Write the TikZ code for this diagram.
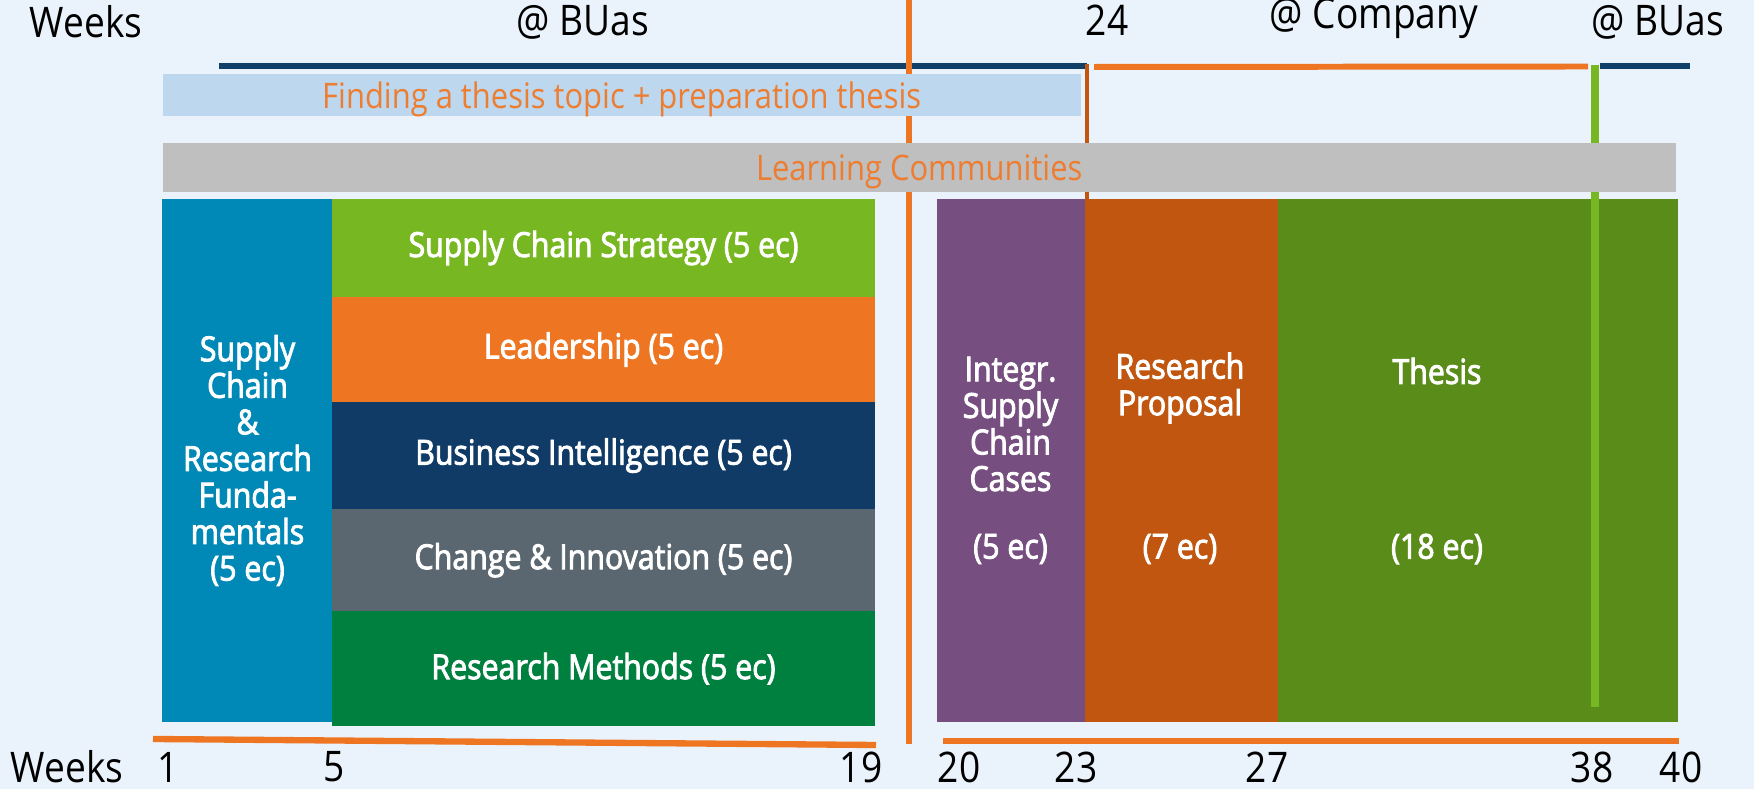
\documentclass[tikz,border=0pt]{standalone}
\usepackage{fontspec}
\setmainfont{Open Sans}[FakeStretch=0.88]
\newfontfamily\semib{Open Sans}[FakeStretch=0.88, FakeBold=2.5]
\usetikzlibrary{positioning}

\definecolor{bgblue}{RGB}{234,243,251}
\definecolor{navy}{RGB}{16,64,104}
\definecolor{barblue}{RGB}{189,215,238}
\definecolor{bargray}{RGB}{191,191,191}
\definecolor{ltorange}{RGB}{237,125,49}
\definecolor{scblue}{RGB}{0,137,182}
\definecolor{lime}{RGB}{119,184,34}
\definecolor{orange1}{RGB}{238,118,35}
\definecolor{darknavy}{RGB}{15,59,102}
\definecolor{slate}{RGB}{91,103,112}
\definecolor{dkgreen}{RGB}{0,128,62}
\definecolor{purple1}{RGB}{118,78,128}
\definecolor{burnt}{RGB}{192,86,15}
\definecolor{olive}{RGB}{90,140,26}

\begin{document}
\begin{tikzpicture}[
    box/.style={inner sep=0pt, fill=#1, draw=#1, line width=0.3pt, text=white,
      font=\fontsize{9.8}{10.4}\semib},
    row/.style={box=#1, minimum width=5.42cm},
    col/.style={box=#1, anchor=north west, minimum height=5.22cm},
    lbl/.style={inner sep=0pt, text=white, align=center, font=\fontsize{9.8}{10.4}\semib},
    wk/.style={inner sep=0pt, font=\fontsize{12}{14}\selectfont},
    bar/.style={anchor=north west, inner sep=0pt, text depth=0pt, text=ltorange,
      font=\fontsize{10}{12}\selectfont},
    navyline/.style={navy, line width=1.7pt},
    orline/.style={orange1, line width=1.8pt}
  ]
  \useasboundingbox[fill=bgblue] (0,0) rectangle (17.54,-7.89);

  % time lines at the top
  \coordinate (n1) at (2.19,-0.66);
  \coordinate (n2) at (10.87,-0.66);
  \coordinate (n3) at (16.00,-0.66);
  \coordinate (n4) at (16.90,-0.66);
  \coordinate (c1) at (10.94,-0.67);
  \coordinate (c2) at (15.88,-0.665);
  \draw[navyline] (n1) -- (n2);
  \draw[navyline] (n3) -- (n4);
  \draw[orline, line width=1.7pt] (c1) -- (c2);

  % vertical markers
  \coordinate (v1) at (9.09,0);
  \coordinate (v2) at (9.09,-7.44);
  \draw[orange1, line width=1.6pt] (v1) -- (v2);
  \coordinate (v3) at (15.95,-0.65);
  \coordinate (v4) at (15.95,-7.07);
  \coordinate (r1) at (10.87,-0.64);
  \coordinate (r2) at (10.87,-1.99);
  \draw[burnt, line width=1.4pt] (r1) -- (r2);
  \draw[lime, line width=2pt] (v3) -- (v4);

  % bars
  \node[bar, fill=barblue, minimum width=9.18cm, minimum height=0.42cm] (topic) at (1.62,-0.73)
    {Finding a thesis topic + preparation thesis};
  \node[bar, fill=bargray, minimum width=15.13cm, minimum height=0.49cm] (lc) at (1.62,-1.42)
    {Learning Communities};

  % first year blocks
  \node[col=scblue, minimum width=1.70cm] (scrf) at (1.62,-1.99) {};
  \node[lbl] (scrftxt) at (scrf.center) {Supply\\Chain\\\&\\Research\\Funda-\\mentals\\(5 ec)};

  \node[row=lime, anchor=north west, minimum height=0.97cm] (scs) at (3.32,-1.99) {Supply Chain Strategy (5 ec)};
  \node[row=orange1, minimum height=1.04cm, below=0pt of scs] (lead) {Leadership (5 ec)};
  \node[row=darknavy, minimum height=1.06cm, below=0pt of lead] (bi) {Business Intelligence (5 ec)};
  \node[row=slate, minimum height=1.01cm, below=0pt of bi] (ci) {Change \& Innovation (5 ec)};
  \node[row=dkgreen, minimum height=1.14cm, below=0pt of ci] (rm) {Research Methods (5 ec)};

  % second part
  \node[col=purple1, minimum width=1.47cm] (isc) at (9.37,-1.99) {};
  \node[col=burnt, minimum width=1.92cm] (rp) at (isc.north east) {};
  \node[col=olive, minimum width=3.99cm] (th) at (rp.north east) {};
  \draw[lime, line width=2pt] (15.95,-1.99) -- (v4);

  \node[lbl] (isctxt) at (10.105,-4.24) {Integr.\\Supply\\Chain\\Cases};
  \node[lbl] (iscec) at (10.105,-5.49) {(5 ec)};
  \node[lbl] (rptxt) at (11.80,-3.88) {Research\\Proposal};
  \node[lbl] (rpec) at (11.80,-5.49) {(7 ec)};
  \node[lbl] (thtxt) at (14.37,-3.71) {Thesis};
  \node[lbl] (thec) at (14.37,-5.49) {(18 ec)};

  % week axis at the bottom
  \coordinate (a1) at (1.53,-7.39);
  \coordinate (a2) at (8.76,-7.45);
  \coordinate (a3) at (9.43,-7.41);
  \coordinate (a4) at (16.79,-7.41);
  \draw[orline] (a1) -- (a2);
  \draw[orline] (a3) -- (a4);

  \node[wk] (wkbot) at (0.67,-7.67) {Weeks};
  \node[wk] (w1) at (1.68,-7.67) {1};
  \node[wk] (w5) at (3.34,-7.67) {5};
  \node[wk] (w19) at (8.61,-7.67) {19};
  \node[wk] (w20) at (9.59,-7.67) {20};
  \node[wk] (w23) at (10.76,-7.67) {23};
  \node[wk] (w27) at (12.67,-7.67) {27};
  \node[wk] (w38) at (15.92,-7.67) {38};
  \node[wk] (w40) at (16.81,-7.67) {40};

  % labels at the top
  \node[wk] (wktop) at (0.86,-0.22) {Weeks};
  \node[wk] (buas1) at (5.83,-0.22) {@ BUas};
  \node[wk] (w24) at (11.07,-0.20) {24};
  \node[wk] (comp) at (13.74,-0.18) {@ Company};
  \node[wk] (buas2) at (16.58,-0.22) {@ BUas};
\end{tikzpicture}
\end{document}
